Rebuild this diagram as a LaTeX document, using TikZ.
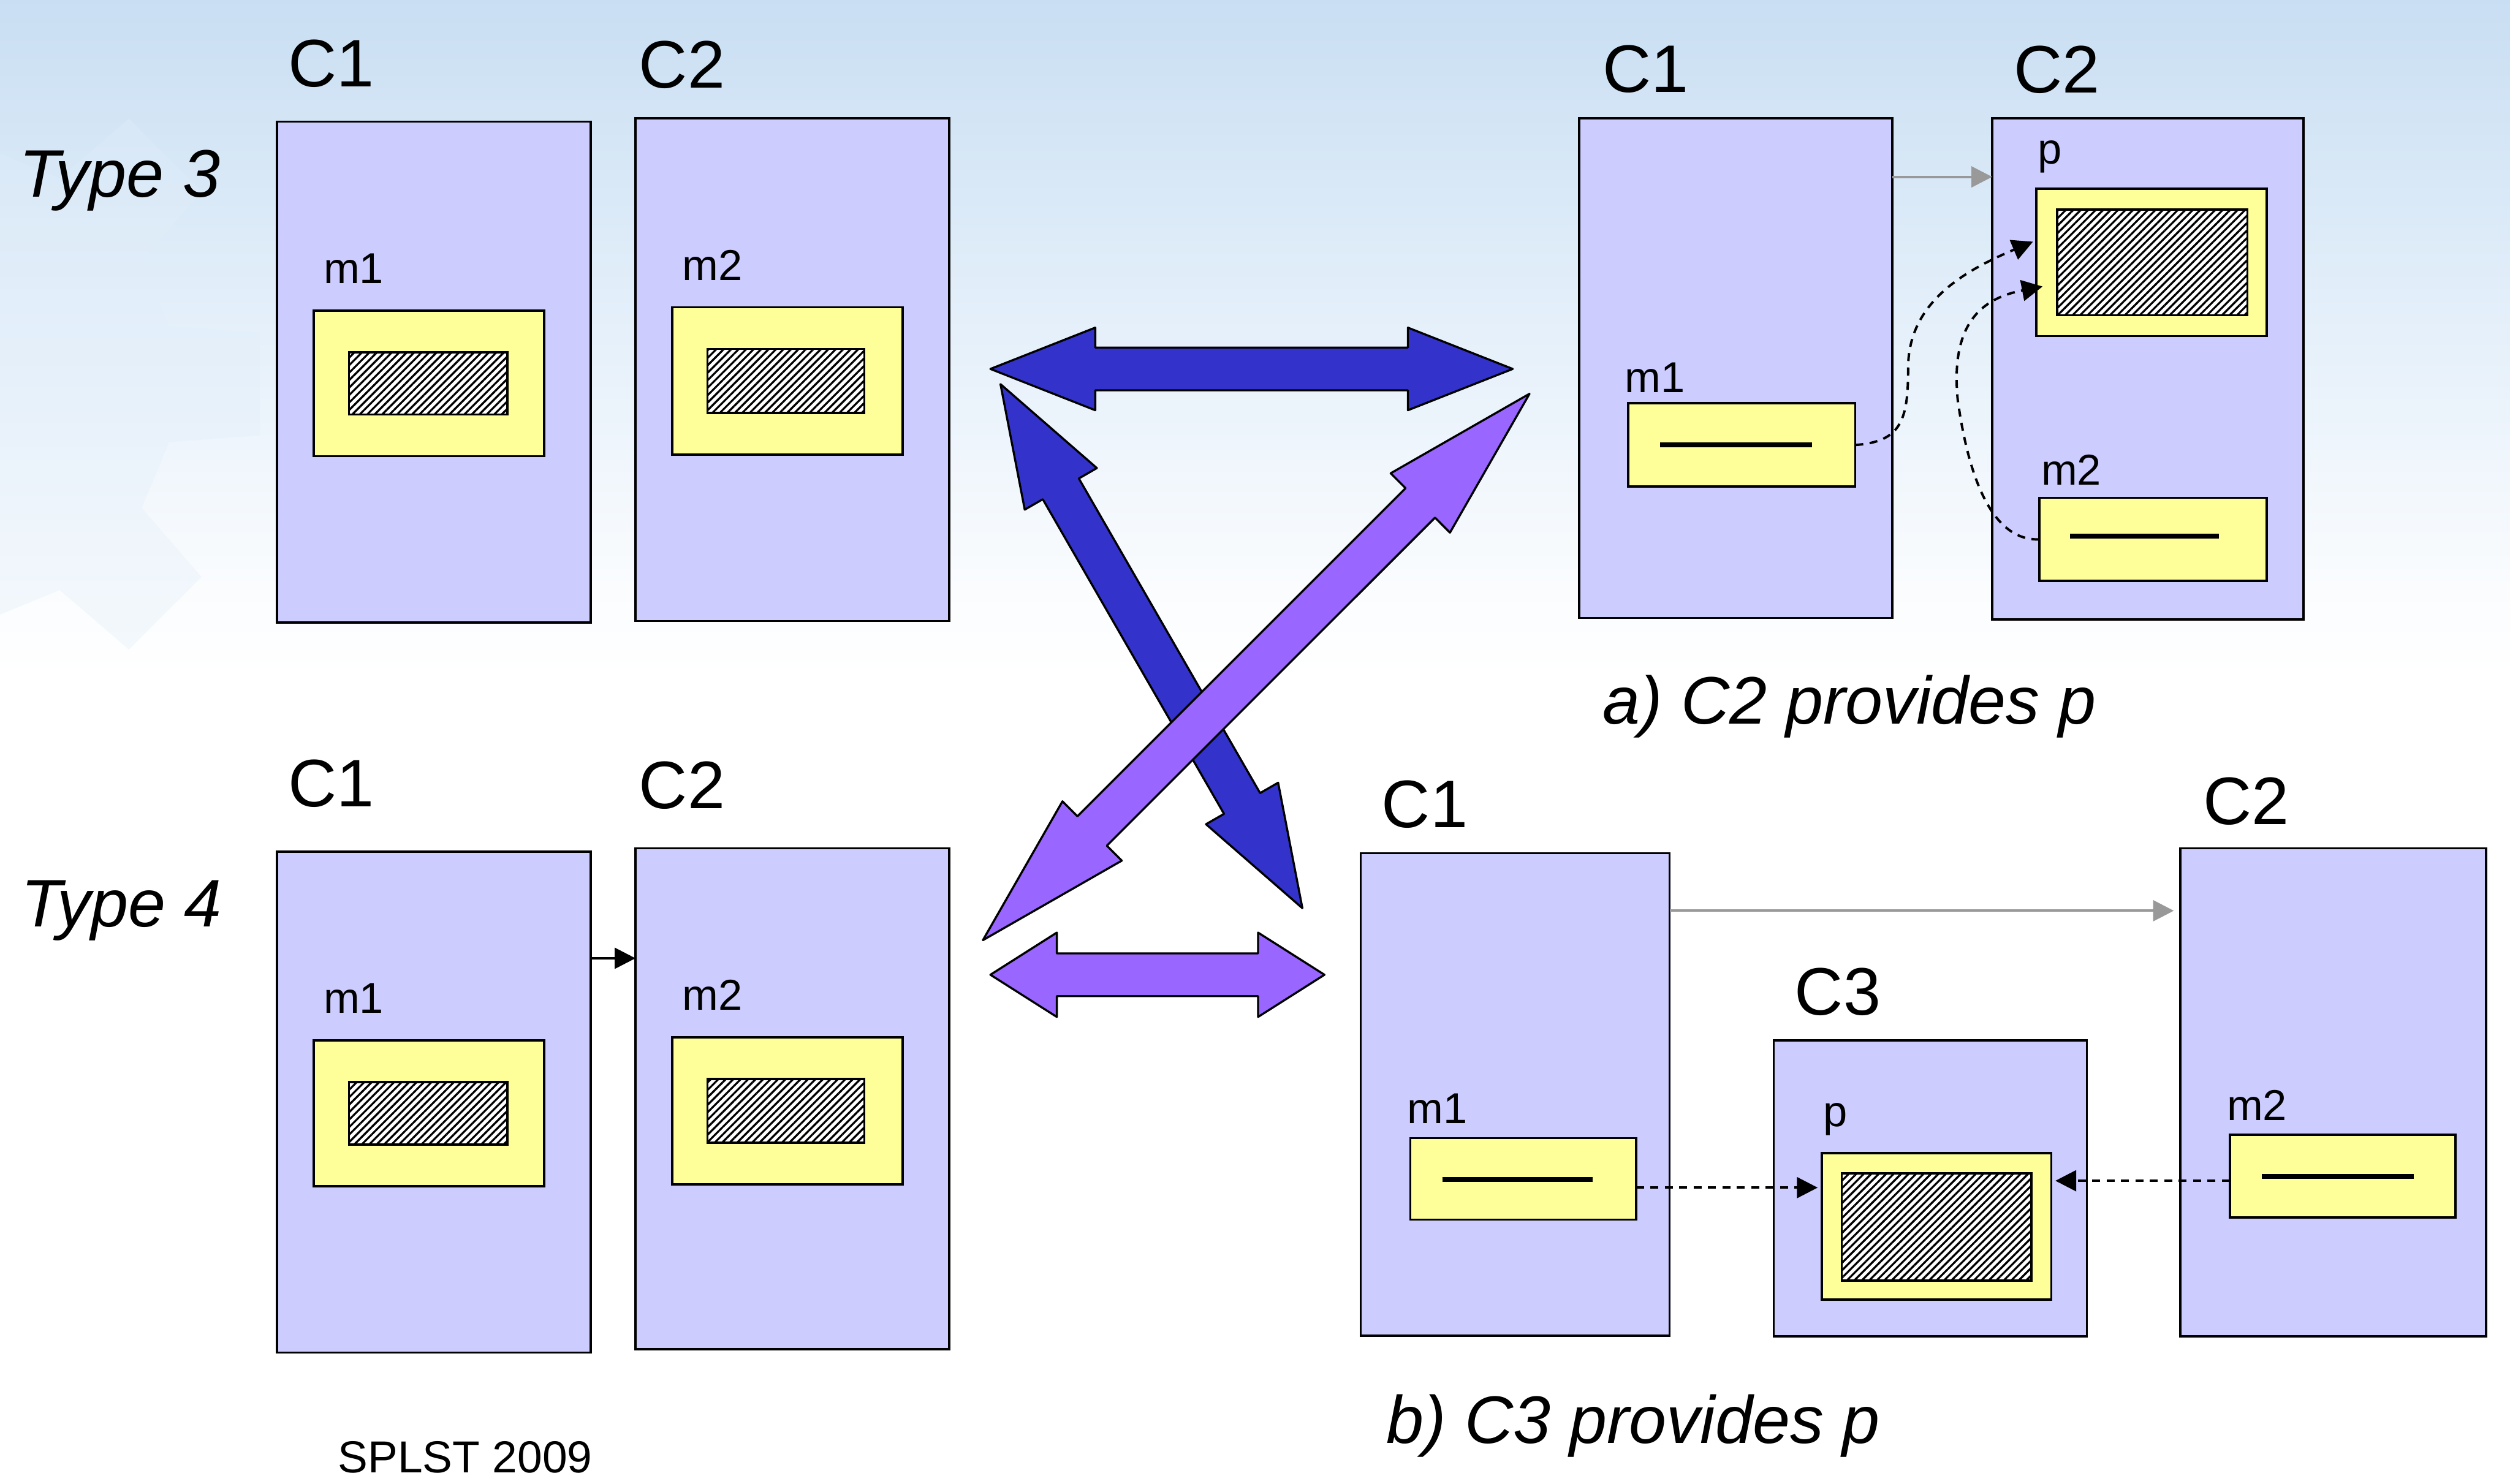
\documentclass[tikz,border=0pt]{standalone}
\usepackage{fontspec}
\setmainfont{Liberation Sans}
\usetikzlibrary{arrows.meta,calc,fit,patterns.meta}

\definecolor{compfill}{HTML}{CCCCFF}
\definecolor{methfill}{HTML}{FFFF99}
\definecolor{arrblue}{HTML}{3333CC}
\definecolor{arrpurple}{HTML}{9966FF}
\definecolor{linkgrey}{HTML}{999999}
\definecolor{skytop}{HTML}{A6C7E9}
\definecolor{skyhigh}{HTML}{C4DBF1}
\definecolor{skylow}{HTML}{E0EDF9}
\definecolor{skyfade}{HTML}{FAFCFE}
\definecolor{gearfill}{HTML}{E2EEFA}

\pgfdeclareverticalshading{skybg}{100bp}{color(0bp)=(white); color(30bp)=(white);
  color(36bp)=(skyfade); color(57bp)=(skylow); color(79bp)=(skyhigh); color(100bp)=(skytop)}

% double-headed block arrow: tip A, tip B, head length, head half-width, shaft half-width, fill
\newcommand\dblarrow[6]{%
  \coordinate (dbA) at #1;
  \coordinate (dbB) at #2;
  \coordinate (dbHa) at ($(dbA)!#3!(dbB)$);
  \coordinate (dbHb) at ($(dbB)!#3!(dbA)$);
  \filldraw[bigarrow, fill=#6] (dbA)
    -- ($(dbHa)!#4!90:(dbB)$) -- ($(dbHa)!#5!90:(dbB)$)
    -- ($(dbHb)!#5!90:(dbB)$) -- ($(dbHb)!#4!90:(dbB)$)
    -- (dbB)
    -- ($(dbHb)!#4!-90:(dbB)$) -- ($(dbHb)!#5!-90:(dbB)$)
    -- ($(dbHa)!#5!-90:(dbB)$) -- ($(dbHa)!#4!-90:(dbB)$) -- cycle;}

\begin{document}
\begin{tikzpicture}[x=1pt, y=-1pt,
  comp/.style={draw, line width=1.4pt, fill=compfill, inner sep=0pt, outer sep=0pt},
  meth/.style={draw, line width=1.4pt, fill=methfill, inner sep=0pt, outer sep=0pt},
  hatchbox/.style={draw, line width=1.4pt, fill=white, inner sep=0pt, outer sep=0pt,
    postaction={pattern={Lines[angle=45,distance=3.3pt,line width=1.25pt]}, pattern color=black}},
  biglbl/.style={anchor=base west, inner sep=0pt, font=\fontsize{42}{50}\selectfont},
  sublbl/.style={anchor=base west, inner sep=0pt, font=\fontsize{27}{32}\selectfont},
  caption/.style={anchor=base west, inner sep=0pt, font=\fontsize{42}{50}\selectfont\itshape},
  bar/.style={line width=3pt},
  greylink/.style={linkgrey, line width=1.6pt, -{Triangle[length=13pt,width=13pt]}},
  calllink/.style={black, line width=1.5pt, dash pattern=on 5pt off 4pt, -{Triangle[length=13pt,width=13pt]}},
  solidlink/.style={black, line width=1.4pt, -{Triangle[length=13pt,width=13pt]}},
  bigarrow/.style={draw=black, line width=1.3pt, line join=round}]

\useasboundingbox (0,0) rectangle (1568,927);

% sky background with a faint gear watermark
\begin{scope}
  \clip (0,0) rectangle (1568,927);
  \fill[white] (0,0) rectangle (1568,927);
  \shade[shading=skybg] (0,0) rectangle (1568,470);
  \begin{scope}[shift={(-40,240)}]
    \fill[gearfill, opacity=.35] (-14:150) foreach \a in {0,45,...,315} {
      -- (\a-14:150) -- (\a-9:205) -- (\a+9:205) -- (\a+14:150) } -- cycle;
  \end{scope}
\end{scope}

% ---------- Type 3 ----------
\node[caption] (type3) at (12,123) {Type 3};
\node[comp, fit={(173,76) (369,389)}] (t3c1) {};
\node[comp, fit={(397,74) (593,388)}] (t3c2) {};
\node[biglbl] (t3c1l) at (180,54) {C1};
\node[biglbl] (t3c2l) at (399,55) {C2};
\node[sublbl] (t3m1l) at (202,177) {m1};
\node[sublbl] (t3m2l) at (426,175) {m2};
\node[meth, fit={(196,194) (340,285)}] (t3m1) {};
\node[hatchbox, fit={(218,220) (317,259)}] (t3h1) {};
\node[meth, fit={(420,192) (564,284)}] (t3m2) {};
\node[hatchbox, fit={(442,218) (540,258)}] (t3h2) {};

% ---------- Type 4 ----------
\node[caption] (type4) at (13,579) {Type 4};
\node[comp, fit={(173,532) (369,845)}] (t4c1) {};
\node[comp, fit={(397,530) (593,843)}] (t4c2) {};
\node[biglbl] (t4c1l) at (180,504) {C1};
\node[biglbl] (t4c2l) at (399,505) {C2};
\node[sublbl] (t4m1l) at (202,633) {m1};
\node[sublbl] (t4m2l) at (426,631) {m2};
\node[meth, fit={(196,650) (340,741)}] (t4m1) {};
\node[hatchbox, fit={(218,676) (317,715)}] (t4h1) {};
\node[meth, fit={(420,648) (564,740)}] (t4m2) {};
\node[hatchbox, fit={(442,674) (540,714)}] (t4h2) {};
\coordinate (t4y) at (0,598.7);
\draw[solidlink] (t4c1.east |- t4y) -- (t4c2.west |- t4y);

% ---------- a) C2 provides p ----------
\node[comp, fit={(986.5,74) (1182,386)}] (ac1) {};
\node[comp, fit={(1244.5,74) (1439,387)}] (ac2) {};
\node[biglbl] (ac1l) at (1001,57.5) {C1};
\node[biglbl] (ac2l) at (1258,58) {C2};
\node[sublbl] (apl) at (1273,102.5) {p};
\node[sublbl] (am1l) at (1015,245) {m1};
\node[sublbl] (am2l) at (1275,303) {m2};
\node[meth, fit={(1272,118) (1416,210)}] (ap) {};
\node[hatchbox, fit={(1285,131) (1404,197)}] (aph) {};
\node[meth, fit={(1017,252) (1159,304)}] (am1) {};
\draw[bar] (1037,278) -- (1132,278);
\node[meth, fit={(1274,311) (1416,363)}] (am2) {};
\draw[bar] (1293,335) -- (1386,335);
\coordinate (ay) at (0,110.5);
\draw[greylink] (ac1.east |- ay) -- (ac2.west |- ay);
\coordinate (apin1) at (1270,151);
\coordinate (apin2) at (1276,179);
\draw[calllink] (am1.east) .. controls (1188,276) and (1192,262) .. (1192,230)
  .. controls (1192,190) and (1225,170) .. (apin1);
\draw[calllink] (am2.west) .. controls (1245,338) and (1230,300) .. (1223,250)
  .. controls (1218,200) and (1240,186) .. (apin2);
\node[caption] (acap) at (1001,452.3) {a) C2 provides p};

% ---------- b) C3 provides p ----------
\node[comp, fit={(850,533) (1043,834.6)}] (bc1) {};
\node[comp, fit={(1108,650) (1303.6,835)}] (bc3) {};
\node[comp, fit={(1362,530) (1553,835)}] (bc2) {};
\node[biglbl] (bc1l) at (863,517) {C1};
\node[biglbl] (bc3l) at (1121,634) {C3};
\node[biglbl] (bc2l) at (1376,515) {C2};
\node[sublbl] (bm1l) at (879,702) {m1};
\node[sublbl] (bpl) at (1139,703.7) {p};
\node[sublbl] (bm2l) at (1391,700) {m2};
\node[meth, fit={(881,711) (1022,762)}] (bm1) {};
\draw[bar] (901,737) -- (995,737);
\node[meth, fit={(1138,720.5) (1281.5,812)}] (bp) {};
\node[hatchbox, fit={(1150.5,733) (1269,800)}] (bph) {};
\node[meth, fit={(1393,709) (1534,760.6)}] (bm2) {};
\draw[bar] (1413,735) -- (1508,735);
\coordinate (by) at (0,569);
\draw[greylink, shorten >=4pt] (bc1.east |- by) -- (bc2.west |- by);
\coordinate (by1) at (0,742);
\coordinate (by2) at (0,737.7);
\draw[calllink, shorten >=2.5pt] (bm1.east |- by1) -- (bp.west |- by1);
\draw[calllink, shorten >=2.5pt] (bm2.west |- by2) -- (bp.east |- by2);
\node[caption] (bcap) at (866,901.8) {b) C3 provides p};

% ---------- transformation arrows ----------
\dblarrow{(618.7,230.5)}{(945,230.5)}{65.5pt}{25.8pt}{13.35pt}{arrblue}
\dblarrow{(618.7,609)}{(827.4,609)}{41.5pt}{26.35pt}{13.35pt}{arrpurple}
\dblarrow{(625,240)}{(813.6,567.4)}{75.5pt}{26pt}{13pt}{arrblue}
\dblarrow{(614,587.4)}{(955.5,246)}{96.5pt}{26.2pt}{13pt}{arrpurple}

\node[anchor=base west, inner sep=0pt, font=\fontsize{28}{34}\selectfont] (year) at (211,920) {SPLST 2009};
\end{tikzpicture}
\end{document}
